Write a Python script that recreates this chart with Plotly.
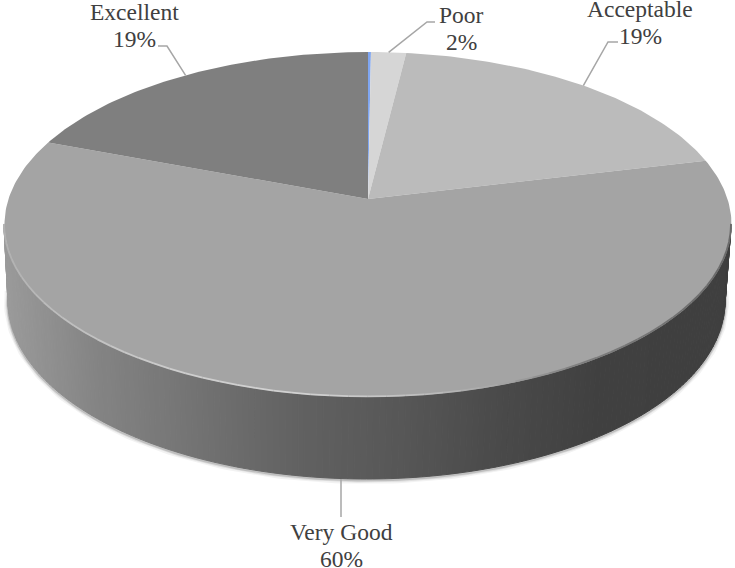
import numpy as np
import plotly.graph_objects as go

# ---- data ----
categories = ["", "Poor", "Acceptable", "Very Good", "Excellent"]
values = [0.15, 1.8, 19.3, 59.6, 19.3]
percent_labels = ["", "2%", "19%", "60%", "19%"]
slice_colors = ["#7FA6F2", "#D6D6D6", "#BBBBBB", "#A4A4A4", "#7F7F7F"]

# ---- tilted-disc geometry (pixels) ----
W, H = 735, 568
CX, CY = 368.0, 199.0      # apex of the pie as seen in perspective
A, B, K = 359.5, 168.7, 0.148
TOP_E = (367.5, 224.5, 363.5, 172.5)   # cx, cy, a, b of the upper rim
BOT_E = (366.5, 301.0, 358.5, 178.0)   # cx, cy, a, b of the lower rim
TEXT = "#404040"
LEADER = "#A6A6A6"
FONT = "Liberation Serif"
FONT_SIZE = 23.5
LINE_GAP = 26.5

# label: elbow, end of leader, text centre of first line
label_layout = {
    "Poor": dict(elbow=(427, 22), end=(435, 22), text=(461, 15)),
    "Acceptable": dict(elbow=(608, 42), end=(618, 42), text=(640, 9)),
    "Very Good": dict(elbow=None, end=(341, 517), text=(341, 532)),
    "Excellent": dict(elbow=(167, 46), end=(158, 46), text=(134, 12)),
}

wall_x = [0, 10, 100, 200, 300, 400, 500, 600, 700, 735]
wall_g = [158, 153, 131, 114, 97, 87, 74, 64, 63, 63]
rim_x = [0, 60, 180, 300, 420, 500, 580, 735]
rim_g = [176, 190, 205, 210, 190, 165, 125, 105]


def project(theta):
    u, v = np.sin(theta), np.cos(theta)
    w = 1 + K * v
    return CX + A * u / w, CY - B * v / w


def ellipse(e, t):
    return e[0] + e[2] * np.cos(t), e[1] + e[3] * np.sin(t)


def gray(g):
    g = int(round(g))
    return f"rgb({g},{g},{g})"


fig = go.Figure()


def poly(xs, ys, color, line=True):
    fig.add_trace(go.Scatter(
        x=list(xs), y=list(ys), mode="lines", fill="toself", fillcolor=color,
        line=dict(color=color, width=1 if line else 0), hoverinfo="skip", showlegend=False))


def path(xs, ys, color, width):
    fig.add_trace(go.Scatter(
        x=list(xs), y=list(ys), mode="lines", line=dict(color=color, width=width, shape="linear"),
        hoverinfo="skip", showlegend=False))


# soft shadow below the lower rim
t_all = np.linspace(np.pi * 1.02, -np.pi * 0.02, 200)
sx, sy = ellipse(BOT_E, t_all)
for w_, al in [(8, 0.05), (5, 0.08), (3, 0.14)]:
    path(sx, sy + 1.0, f"rgba(0,0,0,{al})", w_)

# side wall drawn in vertical strips
t_edges = np.linspace(np.pi, 0, 181)
for t0, t1 in zip(t_edges[:-1], t_edges[1:]):
    x0, y0 = ellipse(TOP_E, t0)
    x1, y1 = ellipse(TOP_E, t1)
    x2, y2 = ellipse(BOT_E, t1)
    x3, y3 = ellipse(BOT_E, t0)
    g = np.interp((x0 + x1) / 2, wall_x, wall_g)
    poly([x0, x1, x2, x3, x0], [y0, y1, y2, y3, y0], gray(g))

# top face slices, clockwise from twelve o'clock
total = sum(values)
edges = np.cumsum([0] + values) / total * 2 * np.pi
for i, name in enumerate(categories):
    th = np.linspace(edges[i], edges[i + 1], max(3, int(values[i] * 4)))
    px, py = project(th)
    poly([CX, *px, CX], [CY, *py, CY], slice_colors[i], line=False)

# bevel highlight along the front of the top face
t_rim = np.linspace(np.pi, 0, 61)
for t0, t1 in zip(t_rim[:-1], t_rim[1:]):
    x0, y0 = ellipse(TOP_E, t0)
    x1, y1 = ellipse(TOP_E, t1)
    g = np.interp((x0 + x1) / 2, rim_x, rim_g)
    path([x0, x1], [y0 - 0.6, y1 - 0.6], gray(g), 1.8)

# leader lines and labels
for i, name in enumerate(categories):
    if name not in label_layout:
        continue
    cfg = label_layout[name]
    mid = (edges[i] + edges[i + 1]) / 2
    sx0, sy0 = project(mid)
    if cfg["elbow"] is None:
        sx0, sy0 = cfg["end"][0], ellipse(BOT_E, np.pi / 2)[1]
        xs, ys = [sx0, cfg["end"][0]], [sy0, cfg["end"][1]]
    else:
        xs = [sx0, cfg["elbow"][0], cfg["end"][0]]
        ys = [sy0, cfg["elbow"][1], cfg["end"][1]]
    path(xs, ys, LEADER, 1.5)
    tx, ty = cfg["text"]
    for text, yy in ((name, ty), (percent_labels[i], ty + LINE_GAP)):
        fig.add_annotation(x=tx, y=yy, text=text, showarrow=False, xanchor="center", yanchor="middle",
                           font=dict(family=FONT, size=FONT_SIZE, color=TEXT))

fig.update_layout(
    width=W, height=H, autosize=False,
    margin=dict(l=0, r=0, t=0, b=0),
    paper_bgcolor="white", plot_bgcolor="white", showlegend=False,
    xaxis=dict(range=[0, W], visible=False, fixedrange=True),
    yaxis=dict(range=[H, 0], visible=False, fixedrange=True),
)
fig.write_html("out.html", config={"displayModeBar": False},
               post_script="document.body.style.margin='0';document.documentElement.style.overflow='hidden';")
